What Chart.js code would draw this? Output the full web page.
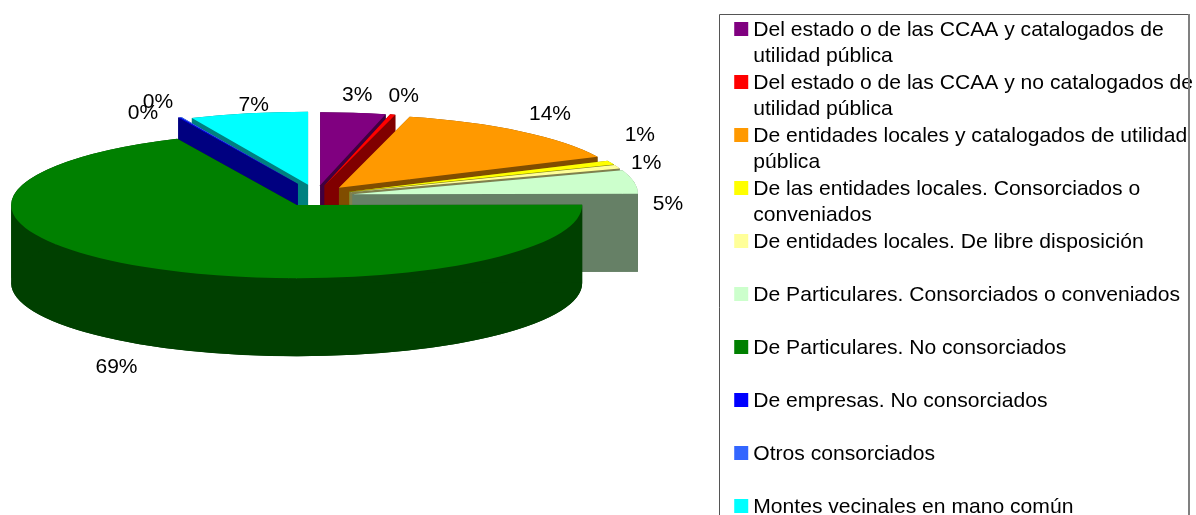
<!DOCTYPE html>
<html>
<head>
<meta charset="utf-8">
<script src="https://cdn.jsdelivr.net/npm/chart.js@4"></script>
<style>
  html, body { margin: 0; padding: 0; background: #fff; overflow: hidden; }
  canvas { display: block; }
</style>
</head>
<body>
<canvas id="pie3d" width="1196" height="600"></canvas>
<script>
  const categories = [
    ['Del estado o de las CCAA y catalogados de', 'utilidad pública'],
    ['Del estado o de las CCAA y no catalogados de', 'utilidad pública'],
    ['De entidades locales y catalogados de utilidad', 'pública'],
    ['De las entidades locales. Consorciados o', 'conveniados'],
    ['De entidades locales. De libre disposición', ''],
    ['De Particulares. Consorciados o conveniados', ''],
    ['De Particulares. No consorciados', ''],
    ['De empresas. No consorciados', ''],
    ['Otros consorciados', ''],
    ['Montes vecinales en mano común', ''],
  ];
  const slice_values = [3.7, 0.3, 14.1, 0.9, 0.8, 5.2, 68.5, 0.1, 0.1, 6.7];
  const slice_labels = ['3%', '0%', '14%', '1%', '1%', '5%', '69%', '0%', '0%', '7%'];

  const top_colors = ['#800080', '#ff0000', '#ff9900', '#ffff00', '#ffff99', '#ccffcc', '#008000', '#0000ff', '#3366ff', '#00ffff'];
  const side_colors = ['#400040', '#800000', '#804d00', '#808000', '#80804d', '#668066', '#004000', '#000080', '#1a3380', '#008080'];

  // pie is flattened by hand, chart.js only knows circles
  const pie_x = 316, pie_y = 196, pie_radius = 285.5;
  const tilt = 0.256, explode_tilt = 0.3, depth = 78;
  const explode = [36, 36, 36, 36, 36, 37, 36, 44, 44, 38];
  // back slices first, big green one last
  const paint_order = [9, 8, 7, 0, 1, 2, 3, 4, 5, 6];
  const label_nudge = [[4, -17], [11, -18], [29, -17], [29, -27], [29, -4], [34, 22], [-27, 100], [-36, -4], [-23, -15], [5, -8]];

  function placeSlice(ctx, arc, i) {
    const mid = (arc.startAngle + arc.endAngle) / 2;
    ctx.translate(pie_x + Math.cos(mid) * explode[i], pie_y + Math.sin(mid) * explode[i] * explode_tilt);
    ctx.scale(1, tilt);
    ctx.translate(-arc.x, -arc.y);
  }

  // one wall colour per slice: bottom cap, rim band and the two cut faces
  function drawWalls(ctx, arc) {
    const { x, y, outerRadius: r, startAngle: a0, endAngle: a1 } = arc;
    const drop = depth / tilt;
    const x0 = x + Math.cos(a0) * r, y0 = y + Math.sin(a0) * r;
    const x1 = x + Math.cos(a1) * r, y1 = y + Math.sin(a1) * r;

    ctx.beginPath();
    ctx.moveTo(x, y + drop);
    ctx.arc(x, y + drop, r, a0, a1);
    ctx.closePath();
    ctx.fill();

    // rim band is split at the left and right extremes or it crosses itself
    let from = a0;
    while (from < a1) {
      const to = Math.min(a1, (Math.floor(from / Math.PI + 1e-9) + 1) * Math.PI);
      ctx.beginPath();
      ctx.arc(x, y, r, from, to);
      ctx.arc(x, y + drop, r, to, from, true);
      ctx.closePath();
      ctx.fill();
      from = to;
    }

    [[x0, y0], [x1, y1]].forEach(p => {
      ctx.beginPath();
      ctx.moveTo(x, y);
      ctx.lineTo(p[0], p[1]);
      ctx.lineTo(p[0], p[1] + drop);
      ctx.lineTo(x, y + drop);
      ctx.closePath();
      ctx.fill();
    });
  }

  const pie3d_plugin = {
    id: 'pie3d',
    beforeDatasetDraw(chart, args) {
      const ctx = chart.ctx;
      paint_order.forEach(i => {
        const arc = args.meta.data[i];
        ctx.save();
        placeSlice(ctx, arc, i);
        ctx.fillStyle = side_colors[i];
        drawWalls(ctx, arc);
        arc.draw(ctx);
        ctx.restore();
      });
      return false;
    },
    afterDraw(chart) {
      const ctx = chart.ctx;
      const legend = chart.legend;

      // legend frame, runs off the bottom of the page
      ctx.strokeStyle = '#555555';
      ctx.lineWidth = 1;
      ctx.beginPath();
      ctx.moveTo(719.5, 600);
      ctx.lineTo(719.5, 14.5);
      ctx.lineTo(1188.5, 14.5);
      ctx.stroke();
      ctx.strokeStyle = '#808080';
      ctx.lineWidth = 2;
      ctx.beginPath();
      ctx.moveTo(1189, 14);
      ctx.lineTo(1189, 600);
      ctx.stroke();

      // legend swatches
      legend.legendHitBoxes.forEach((box, i) => {
        ctx.fillStyle = legend.legendItems[i].fillStyle;
        ctx.fillRect(box.left - 8.5, box.top + 2, 14, 14);
      });

      // percent labels
      ctx.fillStyle = '#000000';
      ctx.font = '21px "Liberation Sans"';
      ctx.textAlign = 'center';
      ctx.textBaseline = 'middle';
      chart.getDatasetMeta(0).data.forEach((arc, i) => {
        const mid = (arc.startAngle + arc.endAngle) / 2;
        ctx.fillText(
          slice_labels[i],
          pie_x + Math.cos(mid) * (explode[i] + arc.outerRadius) + label_nudge[i][0],
          pie_y + Math.sin(mid) * (explode[i] * explode_tilt + arc.outerRadius * tilt) + label_nudge[i][1]
        );
      });
    }
  };

  const pie3d_config = {
    type: 'pie',
    data: {
      labels: categories,
      datasets: [{
        data: slice_values,
        backgroundColor: top_colors,
        borderWidth: 0,
        clip: false
      }]
    },
    options: {
      responsive: false,
      animation: false,
      radius: pie_radius,
      layout: { padding: { top: 19, right: -7 } },
      plugins: {
        tooltip: { enabled: false },
        legend: {
          position: 'right',
          align: 'start',
          labels: {
            boxWidth: 0,
            padding: 1,
            color: '#000000',
            font: { family: '"Liberation Sans"', size: 21.1, lineHeight: '26px' }
          }
        }
      }
    },
    plugins: [pie3d_plugin]
  };

  var pie3d_chart = new Chart(document.getElementById('pie3d'), pie3d_config);
</script>
</body>
</html>
